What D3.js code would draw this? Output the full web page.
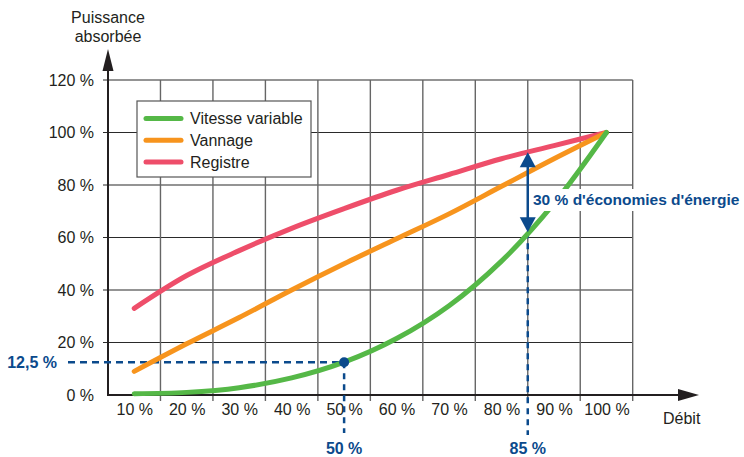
<!DOCTYPE html>
<html>
<head>
<meta charset="utf-8">
<script src="https://cdn.jsdelivr.net/npm/d3@7/dist/d3.min.js"></script>
<style>
  html, body { margin: 0; padding: 0; background: #fff; }
  svg { display: block; font-family: "Liberation Sans", Arial, sans-serif; }
</style>
</head>
<body>
<svg id="chart" width="744" height="457"></svg>
<script>
// Débit (%) for each point of the curves
const debit = [10, 20, 30, 40, 50, 60, 70, 80, 90, 100];
// Puissance absorbée (%) per regulation mode
const vitesseVariable = [0.5, 1, 2.8, 6.5, 12.5, 21.5, 34, 51, 73, 100];
const vannage = [9, 19.5, 29.5, 40, 50, 59.5, 69, 79.5, 90, 100];
const registre = [33, 45.5, 55, 63.5, 71, 78, 84, 90, 95, 100];

const seriesNames = ["Vitesse variable", "Vannage", "Registre"];
const seriesColors = ["#55b847", "#f7941d", "#ee4e6a"];

const yTicks = [0, 20, 40, 60, 80, 100, 120];
const xGrid = [15, 25, 35, 45, 55, 65, 75, 85, 95, 105];

// highlighted readings
const pointDebit = 50, pointPuissance = 12.5;
const savingDebit = 85;
const savingLabel = "30 % d'économies d'énergie";

const blue = "#0b4a8c";
const ink = "#231f20";

const svg = d3.select("#chart");
const x = d3.scaleLinear().domain([5, 105]).range([108, 632.7]);
const y = d3.scaleLinear().domain([0, 120]).range([395, 80]);

const pct = v => (String(v).replace(".", ",")) + " %";

// grid
const grid = svg.append("g");
grid.selectAll("line.h").data(yTicks.filter(d => d > 0)).join("line")
  .attr("x1", x(5) - 5).attr("x2", x(105))
  .attr("y1", d => y(d)).attr("y2", d => y(d))
  .attr("stroke", "#2a2a2a").attr("stroke-width", 1.1);
grid.selectAll("line.v").data(xGrid).join("line")
  .attr("x1", d => x(d)).attr("x2", d => x(d))
  .attr("y1", y(120)).attr("y2", y(0) + 6)
  .attr("stroke", "#666").attr("stroke-width", 1.4);

// y tick labels
const yAxis = d3.axisLeft(y).tickValues(yTicks).tickSize(0).tickPadding(14).tickFormat(pct);
const gy = svg.append("g").attr("transform", `translate(${x(5)},0)`).call(yAxis);
gy.select(".domain").remove();
gy.selectAll("text").attr("font-size", 16).attr("fill", ink)
  .attr("font-family", "Liberation Sans, Arial, sans-serif");

// x tick labels (band centres)
const xAxis = d3.axisBottom(x).tickValues(debit).tickSize(0).tickPadding(9).tickFormat(pct);
const gx = svg.append("g").attr("transform", `translate(0,${y(0)})`).call(xAxis);
gx.select(".domain").remove();
gx.selectAll("text").attr("font-size", 16).attr("fill", ink)
  .attr("font-family", "Liberation Sans, Arial, sans-serif");

// axes with arrows
svg.append("line").attr("x1", x(5)).attr("x2", 680).attr("y1", y(0)).attr("y2", y(0))
  .attr("stroke", ink).attr("stroke-width", 2);
svg.append("path").attr("d", `M678,${y(0) - 6}L699,${y(0)}L678,${y(0) + 6}Z`).attr("fill", ink);
svg.append("line").attr("x1", x(5)).attr("x2", x(5)).attr("y1", y(0) + 1).attr("y2", 68)
  .attr("stroke", ink).attr("stroke-width", 2);
svg.append("path").attr("d", `M${x(5) - 5.5},71L${x(5)},49L${x(5) + 5.5},71Z`).attr("fill", ink);

// axis titles
const yt = svg.append("text").attr("x", x(5)).attr("text-anchor", "middle")
  .attr("font-size", 16).attr("fill", ink);
yt.append("tspan").attr("x", x(5)).attr("y", 23).text("Puissance");
yt.append("tspan").attr("x", x(5)).attr("y", 42).text("absorbée");
svg.append("text").attr("x", 663).attr("y", 424).attr("font-size", 16).attr("fill", ink).text("Débit");

// dashed reading guides
svg.append("line").attr("x1", 68).attr("x2", x(pointDebit)).attr("y1", y(pointPuissance)).attr("y2", y(pointPuissance))
  .attr("stroke", blue).attr("stroke-width", 2.5).attr("stroke-dasharray", "7,5");
svg.append("line").attr("x1", x(pointDebit)).attr("x2", x(pointDebit)).attr("y1", y(pointPuissance)).attr("y2", 433)
  .attr("stroke", blue).attr("stroke-width", 2.5).attr("stroke-dasharray", "6,5");

const greenAtScale = d3.scaleLinear().domain(debit).range(vitesseVariable);
const redAtScale = d3.scaleLinear().domain(debit).range(registre);
const greenAt = greenAtScale(savingDebit), redAt = redAtScale(savingDebit);

svg.append("line").attr("x1", x(savingDebit)).attr("x2", x(savingDebit)).attr("y1", y(greenAt)).attr("y2", 435)
  .attr("stroke", blue).attr("stroke-width", 2.5).attr("stroke-dasharray", "6,5");

// curves
const line = d3.line().x((d, i) => x(debit[i])).y(d => y(d)).curve(d3.curveCatmullRom.alpha(0.5));
const curves = [registre, vannage, vitesseVariable];
const curveColors = [seriesColors[2], seriesColors[1], seriesColors[0]];
svg.append("g").selectAll("path").data(curves).join("path")
  .attr("d", d => line(d))
  .attr("fill", "none")
  .attr("stroke", (d, i) => curveColors[i])
  .attr("stroke-width", 5)
  .attr("stroke-linecap", "round")
  .attr("stroke-linejoin", "round");

// reading point
svg.append("circle").attr("cx", x(pointDebit)).attr("cy", y(pointPuissance)).attr("r", 5).attr("fill", blue);

// saving arrow
const ax = x(savingDebit), yTop = y(redAt), yBot = y(greenAt);
svg.append("line").attr("x1", ax).attr("x2", ax).attr("y1", yTop + 12).attr("y2", yBot - 12)
  .attr("stroke", blue).attr("stroke-width", 2.5);
svg.append("path").attr("d", `M${ax},${yTop}L${ax + 8},${yTop + 15}L${ax - 8},${yTop + 15}Z`).attr("fill", blue);
svg.append("path").attr("d", `M${ax},${yBot}L${ax + 8},${yBot - 15}L${ax - 8},${yBot - 15}Z`).attr("fill", blue);

svg.append("rect").attr("x", 531).attr("y", 189).attr("width", 210).attr("height", 22).attr("fill", "#fff");
svg.append("text").attr("x", 533).attr("y", 205).attr("font-size", 15.5).attr("font-weight", "bold")
  .attr("fill", blue).text(savingLabel);

// annotation labels
svg.append("text").attr("x", 57).attr("y", y(pointPuissance) + 5.5).attr("text-anchor", "end")
  .attr("font-size", 16).attr("font-weight", "bold").attr("fill", blue).text(pct(pointPuissance));
svg.append("text").attr("x", x(pointDebit)).attr("y", 454).attr("text-anchor", "middle")
  .attr("font-size", 16).attr("font-weight", "bold").attr("fill", blue).text(pct(pointDebit));
svg.append("text").attr("x", x(savingDebit)).attr("y", 454).attr("text-anchor", "middle")
  .attr("font-size", 16).attr("font-weight", "bold").attr("fill", blue).text(pct(savingDebit));

// legend
const lg = svg.append("g").attr("transform", "translate(137,101)");
lg.append("rect").attr("width", 174).attr("height", 76).attr("fill", "#fff")
  .attr("stroke", "#555").attr("stroke-width", 1.2);
const items = lg.selectAll("g.item").data(seriesNames).join("g")
  .attr("transform", (d, i) => `translate(0,${17.5 + i * 21.7})`);
items.append("line").attr("x1", 9).attr("x2", 44).attr("y1", 0).attr("y2", 0)
  .attr("stroke", (d, i) => seriesColors[i]).attr("stroke-width", 5).attr("stroke-linecap", "round");
items.append("text").attr("x", 53).attr("y", 5.8).attr("font-size", 16).attr("fill", ink).text(d => d);
</script>
</body>
</html>
